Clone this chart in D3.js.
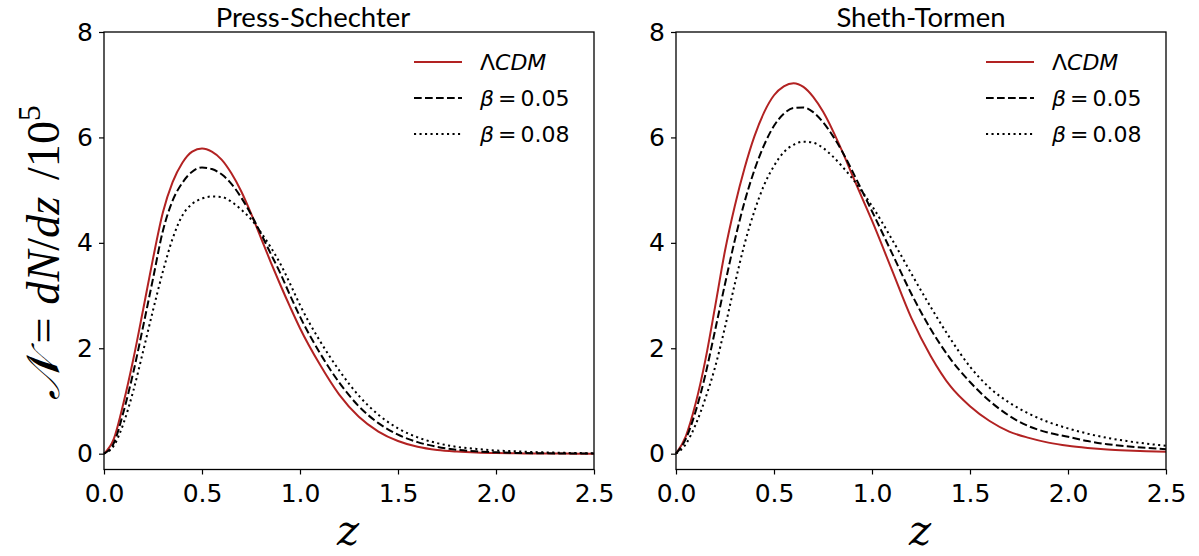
<!DOCTYPE html>
<html>
<head>
<meta charset="utf-8">
<script src="https://cdn.jsdelivr.net/npm/d3@7"></script>
<style>
  html, body { margin: 0; padding: 0; background: #fff; }
  svg { display: block; }
</style>
</head>
<body>
<svg id="chart" width="1199" height="556"></svg>
<script>
// ---------------- data ----------------
const zValues = [0,0.05,0.1,0.15,0.2,0.25,0.3,0.35,0.4,0.45,0.5,0.55,0.6,0.65,0.7,0.75,0.8,0.85,0.9,0.95,1.0,
                 1.1,1.2,1.3,1.4,1.5,1.6,1.7,1.8,1.9,2.0,2.1,2.2,2.3,2.4,2.5];

// Press-Schechter
const psLCDM    = [0,0.28,0.97,1.80,2.74,3.70,4.57,5.15,5.52,5.73,5.79,5.73,5.58,5.32,4.98,4.56,4.10,3.64,3.20,2.78,2.38,
                   1.70,1.12,0.70,0.42,0.24,0.13,0.07,0.04,0.022,0.012,0.007,0.004,0.002,0.001,0.0];
const psBeta005 = [0,0.20,0.80,1.55,2.42,3.32,4.22,4.80,5.14,5.35,5.43,5.40,5.30,5.12,4.86,4.54,4.18,3.80,3.42,3.00,2.60,
                   1.92,1.35,0.90,0.58,0.36,0.22,0.13,0.075,0.045,0.025,0.015,0.009,0.005,0.003,0.002];
const psBeta008 = [0,0.15,0.58,1.20,1.95,2.72,3.45,4.08,4.52,4.74,4.84,4.88,4.87,4.78,4.63,4.45,4.20,3.92,3.60,3.22,2.82,
                   2.15,1.58,1.10,0.74,0.48,0.31,0.20,0.13,0.09,0.06,0.045,0.03,0.02,0.013,0.008];

// Sheth-Tormen
const stLCDM    = [0,0.33,0.95,1.78,2.80,3.85,4.70,5.42,6.02,6.48,6.80,6.97,7.03,6.96,6.77,6.49,6.13,5.72,5.28,4.85,4.42,
                   3.50,2.58,1.85,1.28,0.90,0.62,0.42,0.30,0.21,0.15,0.11,0.08,0.06,0.045,0.035];
const stBeta005 = [0,0.28,0.80,1.50,2.35,3.22,4.05,4.78,5.38,5.86,6.22,6.45,6.56,6.57,6.48,6.29,6.03,5.72,5.36,4.98,4.60,
                   3.82,3.04,2.36,1.80,1.36,1.00,0.72,0.52,0.40,0.32,0.24,0.18,0.14,0.11,0.085];
const stBeta008 = [0,0.18,0.55,1.05,1.65,2.40,3.22,3.98,4.60,5.10,5.46,5.72,5.86,5.92,5.90,5.80,5.64,5.44,5.22,4.97,4.70,
                   4.08,3.42,2.78,2.18,1.65,1.25,0.97,0.76,0.60,0.48,0.38,0.30,0.24,0.19,0.15];

const panelTitles = ["Press-Schechter", "Sheth-Tormen"];
const seriesNames = ["ΛCDM", "β = 0.05", "β = 0.08"];
const xTicks = [0, 0.5, 1.0, 1.5, 2.0, 2.5];
const yTicks = [0, 2, 4, 6, 8];
const xDomain = [0, 2.5];
const yDomain = [-0.3, 8];

// ---------------- layout ----------------
const svg = d3.select("#chart");
svg.append("rect").attr("width", 1199).attr("height", 556).attr("fill", "#fff");

const panels = [
  { left: 104, right: 594, titleX: 313, title: panelTitles[0], series: [psLCDM, psBeta005, psBeta008] },
  { left: 676, right: 1166, titleX: 921, title: panelTitles[1], series: [stLCDM, stBeta005, stBeta008] }
];
const plotTop = 32, plotBottom = 469.5;

const styles = [
  { stroke: "#b22222", dash: null },
  { stroke: "#000", dash: "7.7,3.3" },
  { stroke: "#000", dash: "2.1,3.4" }
];

const tickFont = "'DejaVu Sans', sans-serif";

panels.forEach(p => {
  const x = d3.scaleLinear().domain(xDomain).range([p.left, p.right]);
  const y = d3.scaleLinear().domain(yDomain).range([plotBottom, plotTop]);
  const g = svg.append("g");

  // curves
  const line = d3.line()
    .x((d, i) => x(zValues[i]))
    .y(d => y(d))
    .curve(d3.curveMonotoneX);
  p.series.forEach((s, k) => {
    g.append("path")
      .datum(s)
      .attr("d", line)
      .attr("fill", "none")
      .attr("stroke", styles[k].stroke)
      .attr("stroke-width", 2.0)
      .attr("stroke-dasharray", styles[k].dash);
  });

  // frame
  g.append("rect")
    .attr("x", p.left).attr("y", plotTop)
    .attr("width", p.right - p.left).attr("height", plotBottom - plotTop)
    .attr("fill", "none").attr("stroke", "#000").attr("stroke-width", 1.3);

  // axes
  const xAxis = d3.axisBottom(x).tickValues(xTicks).tickSize(5).tickSizeOuter(0).tickPadding(10)
    .tickFormat(d3.format(".1f"));
  const yAxis = d3.axisLeft(y).tickValues(yTicks).tickSize(5).tickSizeOuter(0).tickPadding(6)
    .tickFormat(d3.format("d"));

  const gx = g.append("g").attr("transform", `translate(0,${plotBottom})`).call(xAxis);
  const gy = g.append("g").attr("transform", `translate(${p.left},0)`).call(yAxis);
  [gx, gy].forEach(a => {
    a.select(".domain").remove();
    a.selectAll(".tick line").attr("stroke", "#000").attr("stroke-width", 1.2);
    a.selectAll(".tick text").attr("fill", "#000")
      .style("font-family", tickFont).style("font-size", "25px");
  });

  // title
  g.append("text")
    .attr("x", p.titleX).attr("y", 27)
    .attr("text-anchor", "middle")
    .style("font-family", "Lato, 'Open Sans', sans-serif")
    .style("font-size", "27.5px")
    .text(p.title);

  // x label
  g.append("text")
    .attr("x", (p.left + p.right) / 2 - 1).attr("y", 545)
    .attr("text-anchor", "middle")
    .style("font-family", "'DejaVu Serif', serif")
    .style("font-style", "italic")
    .style("font-size", "42px")
    .text("z");

  // legend
  const legX = p.right - 180;
  const rows = [62, 98, 134];
  rows.forEach((ry, k) => {
    g.append("line")
      .attr("x1", legX).attr("x2", legX + 48)
      .attr("y1", ry).attr("y2", ry)
      .attr("stroke", styles[k].stroke)
      .attr("stroke-width", 2.0)
      .attr("stroke-dasharray", styles[k].dash);
    const t = g.append("text")
      .attr("x", legX + 66).attr("y", ry + 8)
      .style("font-family", tickFont)
      .style("font-size", "22px");
    if (k === 0) {
      t.append("tspan").text("Λ");
      t.append("tspan").style("font-style", "italic").text("CDM");
    } else {
      const parts = seriesNames[k].split(" = ");
      t.append("tspan").style("font-style", "italic").text(parts[0]);
      t.append("tspan").attr("dx", 4).text("=");
      t.append("tspan").attr("dx", 4).text(parts[1]);
    }
  });
});

// y label (rotated), fitted to the span it occupies in the reference
const ylG = svg.append("g");
const yl = ylG.append("text")
  .attr("x", 0).attr("y", 0)
  .style("font-family", "'Liberation Serif', 'DejaVu Serif', serif")
  .style("font-size", "44px");
yl.append("tspan").style("font-style", "italic").text("𝒩");
yl.append("tspan").attr("dx", 12).text("=");
yl.append("tspan").attr("dx", 12).style("font-style", "italic").text("dN");
yl.append("tspan").text("/");
yl.append("tspan").style("font-style", "italic").text("dz");
yl.append("tspan").attr("dx", 16).text("/10");
yl.append("tspan").attr("dy", -18).style("font-size", "30px").text("5");
const bb = yl.node().getBBox();
const targetTop = 105, targetBottom = 400;
const s = (targetBottom - targetTop) / bb.width;
// rotate(-90): local x -> screen -y ; local y -> screen x
const ty = targetBottom + bb.x * s;
ylG.attr("transform", `translate(59,${ty}) rotate(-90) scale(${s})`);
</script>
</body>
</html>
